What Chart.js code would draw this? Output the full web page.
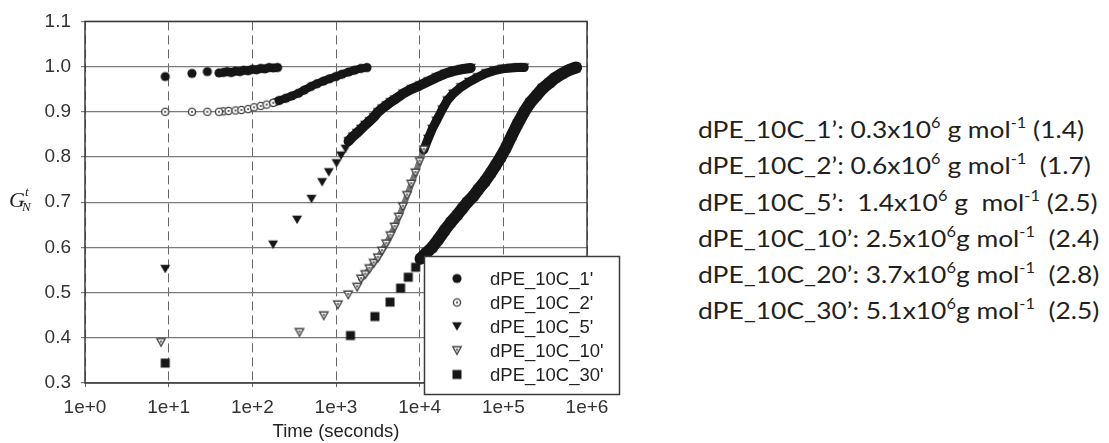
<!DOCTYPE html>
<html>
<head>
<meta charset="utf-8">
<script src="https://cdn.jsdelivr.net/npm/chart.js@4/dist/chart.umd.min.js"></script>
<style>
  html, body { margin: 0; padding: 0; background: #fff; }
  #wrap { position: relative; width: 1109px; height: 443px; overflow: hidden; }
  #chart { position: absolute; left: 0; top: 0; }
  #notes {
    position: absolute; left: 698px; top: 111px;
    font-family: Lato, "Noto Sans", sans-serif; font-size: 24px;
    line-height: 36.3px; color: #231f20; white-space: pre;
    transform: scaleX(1.1); transform-origin: 0 0;
  }
  #notes sup { font-size: 0.62em; line-height: 0; vertical-align: 0.7em; }
</style>
</head>
<body>
<div id="wrap">
  <canvas id="chart" width="640" height="443"></canvas>
  <div id="notes"><div>dPE_10C_1’: 0.3x10<sup>6</sup> g mol<sup>-1</sup> (1.4)</div><div>dPE_10C_2’: 0.6x10<sup>6</sup> g mol<sup>-1</sup>  (1.7)</div><div>dPE_10C_5’:  1.4x10<sup>6</sup> g  mol<sup>-1</sup> (2.5)</div><div>dPE_10C_10’: 2.5x10<sup>6</sup>g mol<sup>-1</sup>  (2.4)</div><div>dPE_10C_20’: 3.7x10<sup>6</sup>g mol<sup>-1</sup>  (2.8)</div><div>dPE_10C_30’: 5.1x10<sup>6</sup>g mol<sup>-1</sup>  (2.5)</div></div>
</div>
<script>
// axis ticks
const xTicks = [1, 10, 100, 1000, 10000, 100000, 1000000];
const xTickLabels = ['1e+0', '1e+1', '1e+2', '1e+3', '1e+4', '1e+5', '1e+6'];
const yTicks = [0.3, 0.4, 0.5, 0.6, 0.7, 0.8, 0.9, 1.0, 1.1];

const seriesNames = ["dPE_10C_1'", "dPE_10C_2'", "dPE_10C_5'", "dPE_10C_10'", "dPE_10C_30'"];

// time (s) and G'N, early separate points then the dense run
const t1 = [9.1, 19, 29, 40];
const g1 = [0.978, 0.985, 0.989, 0.986];
const t1d = [45, 50, 56, 63, 71, 79, 89, 100, 112, 126, 141, 158, 178, 200];
const g1d = [0.987, 0.989, 0.987, 0.990, 0.989, 0.992, 0.991, 0.994, 0.993, 0.996, 0.995, 0.998, 0.997, 0.998];

const t2 = [9.1, 19, 29, 40];
const g2 = [0.900, 0.900, 0.900, 0.900];
const t2d = [45, 52, 63, 74, 89, 105, 126, 148, 178, 209, 251, 295, 355, 417, 501, 589, 708, 832, 1000, 1175, 1413, 1660, 1995, 2344];
const g2d = [0.901, 0.902, 0.903, 0.904, 0.906, 0.910, 0.913, 0.916, 0.920, 0.925, 0.930, 0.935, 0.941, 0.948, 0.956, 0.962, 0.968, 0.973, 0.978, 0.983, 0.988, 0.992, 0.996, 0.998];

const t5 = [9.1, 177, 343, 509, 683, 820, 1014, 1150, 1300];
const g5 = [0.552, 0.606, 0.661, 0.707, 0.744, 0.766, 0.786, 0.803, 0.818];
const t5d = [1413, 1585, 1778, 1995, 2239, 2512, 2818, 3162, 3548, 3981, 4467, 5012, 6310, 7943, 10000, 12589, 15849, 19953, 25119, 31623, 40738];
const g5d = [0.835, 0.845, 0.853, 0.862, 0.871, 0.879, 0.888, 0.899, 0.907, 0.914, 0.921, 0.927, 0.940, 0.950, 0.958, 0.967, 0.976, 0.984, 0.990, 0.994, 0.997];

const t10 = [8.1, 366, 714, 1052, 1400, 1790];
const g10 = [0.390, 0.412, 0.449, 0.473, 0.495, 0.512];
const t10d = [1995, 2239, 2512, 2818, 3162, 3548, 3981, 4467, 5012, 5623, 6310, 7079, 7943, 8913, 10000, 11220, 12589, 14125, 15849, 18621, 21380, 25119, 30903, 38905, 48978, 61660, 77625, 97724, 123027, 147911, 177828];
const g10d = [0.530, 0.540, 0.553, 0.565, 0.577, 0.592, 0.608, 0.626, 0.645, 0.667, 0.690, 0.715, 0.740, 0.765, 0.790, 0.816, 0.840, 0.862, 0.880, 0.905, 0.925, 0.940, 0.954, 0.966, 0.976, 0.985, 0.991, 0.995, 0.997, 0.998, 0.998];

const t30 = [9.1, 1490, 2920, 4420, 5920, 7310, 8950];
const g30 = [0.344, 0.405, 0.447, 0.479, 0.510, 0.534, 0.556];
const t30d = [10233, 12023, 14125, 16596, 19953, 23442, 28184, 32359, 37154, 43652, 50119, 60256, 70795, 81283, 93325, 107152, 125893, 147911, 177828, 208930, 251189, 295121, 354813, 416869, 501187, 602560, 741310];
const g30d = [0.575, 0.588, 0.600, 0.617, 0.638, 0.655, 0.672, 0.686, 0.700, 0.713, 0.728, 0.746, 0.765, 0.782, 0.800, 0.820, 0.847, 0.873, 0.900, 0.920, 0.937, 0.952, 0.964, 0.975, 0.984, 0.992, 0.998];

const INK = '#161616';
const FONT = '"Liberation Sans", Arial, sans-serif';

function pts(t, g) {
    return t.map((x, i) => ({ x: x, y: g[i] }));
}

// small canvases used as point styles
function marker(kind) {
    const c = document.createElement('canvas');
    c.width = 12;
    c.height = 12;
    const m = c.getContext('2d');
    if (kind === 'dot') {
        m.fillStyle = INK;
        m.beginPath(); m.arc(6, 6, 4.6, 0, Math.PI * 2); m.fill();
    } else if (kind === 'ring') {
        m.fillStyle = '#fff';
        m.strokeStyle = '#444';
        m.lineWidth = 1.4;
        m.beginPath(); m.arc(6, 6, 3.6, 0, Math.PI * 2); m.fill(); m.stroke();
        m.fillStyle = '#444';
        m.beginPath(); m.arc(6, 6, 1.1, 0, Math.PI * 2); m.fill();
    } else if (kind === 'tri') {
        m.fillStyle = INK;
        m.beginPath(); m.moveTo(1, 1.8); m.lineTo(11, 1.8); m.lineTo(6, 10.3); m.closePath(); m.fill();
    } else if (kind === 'otri') {
        m.fillStyle = '#fff';
        m.strokeStyle = '#444';
        m.lineWidth = 1.4;
        m.beginPath(); m.moveTo(1.8, 2.3); m.lineTo(10.2, 2.3); m.lineTo(6, 9.8); m.closePath(); m.fill(); m.stroke();
        m.fillStyle = '#555';
        m.beginPath(); m.moveTo(4.5, 4.2); m.lineTo(7.5, 4.2); m.lineTo(6, 6.9); m.closePath(); m.fill();
    } else {
        m.fillStyle = INK;
        m.fillRect(1.5, 1.5, 9, 9);
    }
    return c;
}

const mk = {
    dot: marker('dot'), ring: marker('ring'), tri: marker('tri'),
    otri: marker('otri'), sq: marker('sq')
};
const legendMarks = [mk.dot, mk.ring, mk.tri, mk.otri, mk.sq];

function sparse(data, style) {
    return { data: data, pointStyle: style, showLine: false };
}

function dense(data, style, opts) {
    return Object.assign({
        data: data,
        pointStyle: style,
        showLine: true,
        borderColor: INK,
        borderWidth: 10,
        borderJoinStyle: 'round',
        borderCapStyle: 'round',
        tension: 0
    }, opts || {});
}

const datasets = [
    sparse(pts(t1, g1), mk.dot),
    dense(pts(t1d, g1d), mk.dot, { borderWidth: 8 }),
    sparse(pts(t2, g2), mk.ring),
    dense(pts(t2d, g2d), ctx => (ctx.raw && ctx.raw.x < 200 ? mk.ring : mk.dot), {
        segment: {
            borderColor: ctx => (ctx.p1.parsed.x < 200 ? 'rgba(0,0,0,0)' : INK),
            borderWidth: ctx => (ctx.p1.parsed.x < 200 ? 1 : 8)
        }
    }),
    sparse(pts(t5, g5), mk.tri),
    dense(pts(t5d, g5d), mk.tri),
    sparse(pts(t10, g10), mk.otri),
    dense(pts(t10d, g10d), ctx => (ctx.raw && ctx.raw.y < 0.84 ? mk.otri : mk.tri), {
        segment: {
            borderColor: ctx => (ctx.p1.parsed.y < 0.84 ? '#777' : INK),
            borderWidth: ctx => (ctx.p1.parsed.y < 0.84 ? 6 : 9)
        }
    }),
    sparse(pts(t30, g30), mk.sq),
    dense(pts(t30d, g30d), mk.sq, { borderWidth: 12 })
];

const extras = {
    id: 'extras',
    beforeDatasetsDraw(chart) {
        const { ctx, chartArea: a } = chart;
        ctx.save();
        ctx.strokeStyle = '#3a3a3a';
        ctx.lineWidth = 1.5;
        ctx.strokeRect(a.left, a.top, a.right - a.left, a.bottom - a.top);
        ctx.restore();
    },
    afterDraw(chart) {
        const ctx = chart.ctx;
        ctx.save();
        // legend box
        ctx.fillStyle = '#fff';
        ctx.fillRect(424.5, 256.5, 195, 138);
        ctx.strokeStyle = '#3a3a3a';
        ctx.lineWidth = 1.5;
        ctx.strokeRect(424.5, 256.5, 195, 138);
        ctx.font = '18.5px ' + FONT;
        ctx.fillStyle = '#222';
        ctx.textBaseline = 'middle';
        seriesNames.forEach((name, i) => {
            const y = 278.5 + i * 24;
            const m = legendMarks[i];
            ctx.drawImage(m, 457 - m.width / 2, y - m.height / 2);
            ctx.fillText(name, 490, y + 1);
        });
        // y axis label G'N
        ctx.fillStyle = '#222';
        ctx.textBaseline = 'alphabetic';
        ctx.font = 'italic 22px "Liberation Serif", "DejaVu Serif", serif';
        ctx.fillText('G', 9, 207);
        ctx.font = 'italic 13px "Liberation Serif", "DejaVu Serif", serif';
        ctx.fillText('N', 22, 211);
        ctx.fillText('t', 25, 196);
        ctx.restore();
    }
};

new Chart(document.getElementById('chart'), {
    type: 'scatter',
    data: { datasets: datasets },
    options: {
        responsive: false,
        animation: false,
        devicePixelRatio: 1,
        layout: { padding: { top: 21, right: 53, bottom: 0, left: 0 } },
        plugins: { legend: { display: false }, tooltip: { enabled: false } },
        scales: {
            x: {
                type: 'logarithmic',
                min: 1,
                max: 1000000,
                afterBuildTicks: s => { s.ticks = xTicks.map(v => ({ value: v })); },
                afterFit: s => { s.height = 60; },
                ticks: {
                    callback: (v, i) => xTickLabels[i],
                    font: { family: FONT, size: 19 },
                    color: '#333',
                    padding: 9,
                    maxRotation: 0,
                    autoSkip: false
                },
                grid: {
                    color: '#666',
                    lineWidth: 1,
                    tickLength: 4,
                    tickBorderDash: [],
                    borderDash: [9, 5]
                },
                border: { display: false, dash: [9, 5] },
                title: {
                    display: true,
                    text: 'Time (seconds)',
                    font: { family: FONT, size: 18.5 },
                    color: '#222',
                    padding: { top: 0, bottom: 0 }
                }
            },
            y: {
                min: 0.3,
                max: 1.1,
                afterBuildTicks: s => { s.ticks = yTicks.map(v => ({ value: v })); },
                afterFit: s => { s.width = 85; },
                ticks: {
                    callback: v => v.toFixed(1),
                    font: { family: FONT, size: 19 },
                    color: '#333',
                    padding: 10
                },
                grid: { color: '#7a7a7a', lineWidth: 1.2, tickLength: 4 },
                border: { display: false }
            }
        }
    },
    plugins: [extras]
});
</script>
</body>
</html>
